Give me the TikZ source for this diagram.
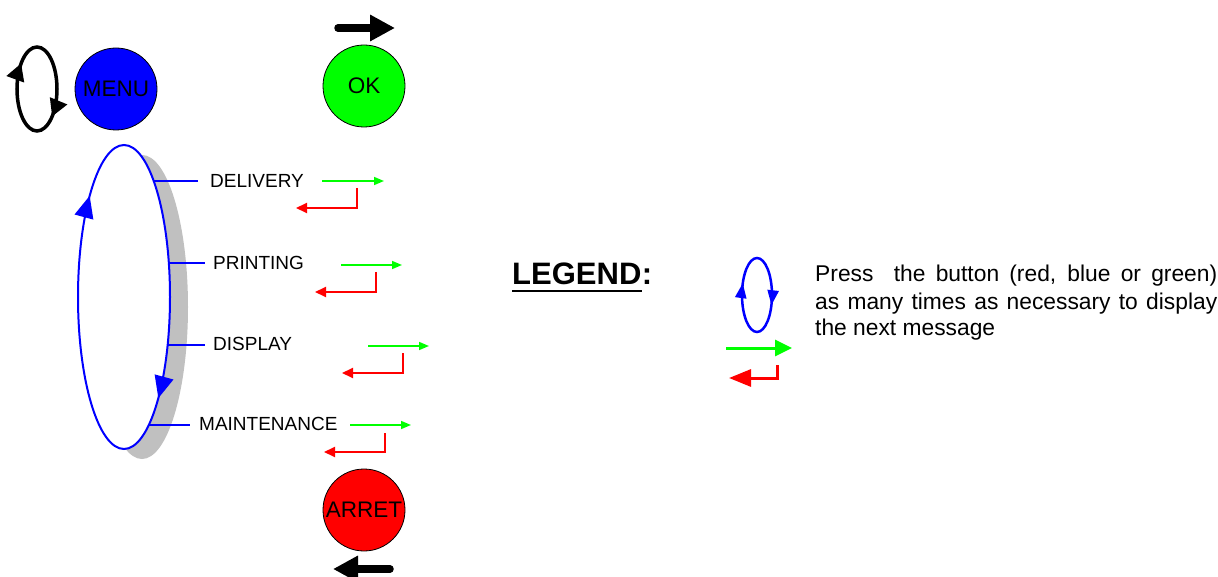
\documentclass[tikz,border=0pt]{standalone}
\usepackage{fontspec}
\setmainfont{Liberation Sans}
\usetikzlibrary{arrows.meta,decorations.markings}
\definecolor{pblue}{RGB}{0,0,255}
\definecolor{pgreen}{RGB}{0,255,0}
\definecolor{pred}{RGB}{255,0,0}
\definecolor{pshadow}{RGB}{192,192,192}
\tikzset{
  button/.style={circle, draw=black, line width=0.8pt, minimum size=82pt, inner sep=0pt, font=\fontsize{22.5}{26}\selectfont},
  menulabel/.style={anchor=west, inner sep=0pt, font=\fontsize{19}{22}\selectfont},
  tick/.style={draw=pblue, line width=1.6pt},
  okarrow/.style={draw=pgreen, line width=1.6pt, -{Triangle[length=10pt,width=8pt]}},
  backarrow/.style={draw=pred, line width=2pt, -{Triangle[length=11pt,width=10pt]}},
  bigarrow/.style={line width=7.5pt, line cap=round, -{Triangle[length=25pt,width=25pt]}},
  legtext/.style={anchor=base west, inner sep=0pt, font=\fontsize{22.8}{27}\selectfont},
}
\begin{document}
\begin{tikzpicture}[x=1pt,y=-1pt]
\useasboundingbox (0,0) rectangle (1218,577);

% top-left black loop
\draw[line width=3.5pt, postaction={decorate, decoration={markings,
    mark=at position 0.37 with {\arrowreversed{Triangle[length=17pt,width=18pt]}},
    mark=at position 0.86 with {\arrowreversed{Triangle[length=17pt,width=18pt]}}}}]
  (37,89) ellipse [x radius=20pt, y radius=42pt];

% buttons
\node[button, fill=pblue] (menu) at (116,89) {MENU};
\node[button, fill=pgreen] (ok) at (364,86) {OK};
\node[button, fill=pred] (arret) at (364,510) {ARRET};

% thick black arrows
\coordinate (okA) at (338,28);
\coordinate (okB) at (395,28);
\draw[bigarrow] (okA) -- (okB);
\coordinate (arA) at (390,569);
\coordinate (arB) at (333,569);
\draw[bigarrow] (arA) -- (arB);

% menu loop with shadow
\fill[pshadow] (142,307) ellipse [x radius=46pt, y radius=152pt];
\draw[pblue, fill=white, line width=2pt, postaction={decorate, decoration={markings,
    mark=at position 0.347 with {\arrowreversed{Triangle[length=22pt,width=19pt]}},
    mark=at position 0.847 with {\arrowreversed{Triangle[length=22pt,width=19pt]}}}}]
  (124,297) ellipse [x radius=46pt, y radius=152pt];

\coordinate (e1) at (153.7,181);
\coordinate (e2) at (168.8,263);
\coordinate (e3) at (167.6,345);
\coordinate (e4) at (148.8,425);

\node[menulabel] (l1) at (210,181) {DELIVERY};
\node[menulabel] (l2) at (213,263) {PRINTING};
\node[menulabel] (l3) at (213,344) {DISPLAY};
\node[menulabel] (l4) at (199,424) {MAINTENANCE};

\draw[tick, shorten >=12pt] (e1) -- (e1 -| l1.west);
\draw[tick, shorten >=8pt] (e2) -- (e2 -| l2.west);
\draw[tick, shorten >=8pt] (e3) -- (e3 -| l3.west);
\draw[tick, shorten >=9pt] (e4) -- (e4 -| l4.west);

% green / red arrows
\coordinate (g1a) at (322,181); \coordinate (g1b) at (384,181);
\coordinate (r1a) at (357,188); \coordinate (r1b) at (357,208); \coordinate (r1c) at (296,208);
\coordinate (g2a) at (341,265); \coordinate (g2b) at (402,265);
\coordinate (r2a) at (376,272); \coordinate (r2b) at (376,292); \coordinate (r2c) at (315,292);
\coordinate (g3a) at (368,346); \coordinate (g3b) at (429,346);
\coordinate (r3a) at (403,353); \coordinate (r3b) at (403,373); \coordinate (r3c) at (342,373);
\coordinate (g4a) at (350,425); \coordinate (g4b) at (411,425);
\coordinate (r4a) at (385,433); \coordinate (r4b) at (385,452); \coordinate (r4c) at (324,452);

\draw[okarrow] (g1a) -- (g1b);
\draw[backarrow] (r1a) -- (r1b) -- (r1c);
\draw[okarrow] (g2a) -- (g2b);
\draw[backarrow] (r2a) -- (r2b) -- (r2c);
\draw[okarrow] (g3a) -- (g3b);
\draw[backarrow] (r3a) -- (r3b) -- (r3c);
\draw[okarrow] (g4a) -- (g4b);
\draw[backarrow] (r4a) -- (r4b) -- (r4c);

% legend
\node[anchor=base west, inner sep=0pt, font=\fontsize{31}{34}\selectfont\bfseries] (leg) at (512,285) {LEGEND};
\node[anchor=base west, inner sep=0pt, font=\fontsize{31}{34}\selectfont\bfseries] (legc) at (leg.base east) {:};
\draw[line width=2.2pt] ([yshift=-6pt]leg.base west) -- ([yshift=-6pt]leg.base east);

\draw[pblue, line width=2.5pt, postaction={decorate, decoration={markings,
    mark=at position 0.43 with {\arrowreversed{Triangle[length=15pt,width=11pt]}},
    mark=at position 0.94 with {\arrowreversed{Triangle[length=15pt,width=11pt]}}}}]
  (757,295) ellipse [x radius=15pt, y radius=37pt];

\coordinate (lgA) at (726,348); \coordinate (lgB) at (792,348);
\draw[draw=pgreen, line width=3pt, -{Triangle[length=17pt,width=16pt]}] (lgA) -- (lgB);
\coordinate (lrA) at (777,365); \coordinate (lrB) at (777,378); \coordinate (lrC) at (729,378);
\draw[draw=pred, line width=3pt, -{Triangle[length=22pt,width=17pt]}] (lrA) -- (lrB) -- (lrC);

\node[legtext] (t1) at (815,282) {\makebox[402pt][s]{Press\ \ the button (red, blue or green)}};
\node[legtext] (t2) at (815,309) {\makebox[402pt][s]{as many times as necessary to display}};
\node[legtext] (t3) at (815,335) {the next message};
\end{tikzpicture}
\end{document}
